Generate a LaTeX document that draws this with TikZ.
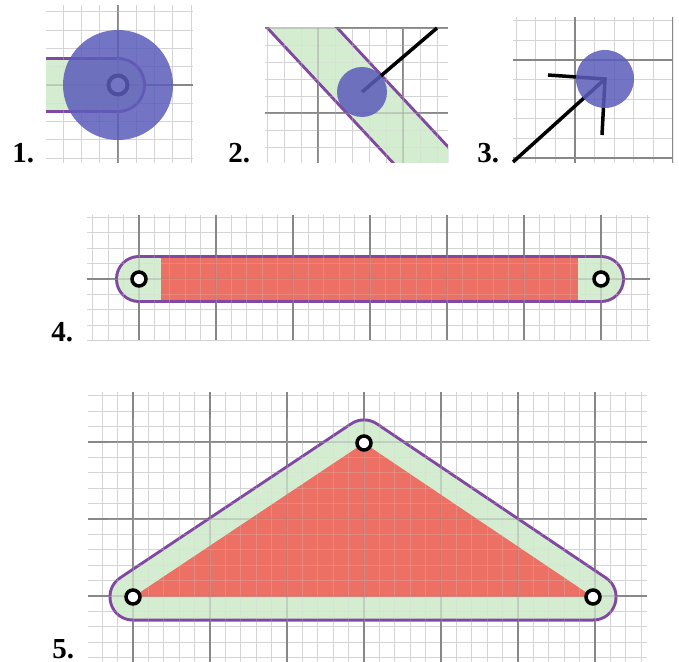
\documentclass[tikz,border=0pt]{standalone}
\usepackage{fontspec}
\setmainfont{Liberation Serif}
\definecolor{gminorc}{RGB}{212,212,212}
\definecolor{gmajorc}{RGB}{135,135,135}
\definecolor{zone}{RGB}{212,236,208}
\definecolor{trired}{RGB}{236,112,100}
\definecolor{edge}{RGB}{128,72,160}
\definecolor{disc}{RGB}{92,92,186}
\tikzset{
  gminor/.style={gminorc, line width=0.45pt},
  gmajor/.style={gmajorc, line width=0.65pt},
  lbl/.style={font=\fontsize{14.5}{16}\selectfont\bfseries, inner sep=0pt, anchor=base west},
  pt/.style={circle, draw=black, fill=white, line width=1.75pt, minimum size=7pt, inner sep=0pt},
  bigpt/.style={circle, draw=black, fill=white, line width=2pt, minimum size=9.5pt, inner sep=0pt},
  discfill/.style={fill=disc, fill opacity=0.85},
  blackline/.style={black, line width=1.75pt}
}
\newcommand\drawgrid[8]{%
\begin{scope}[opacity=#8]
\clip (#1,#2) rectangle (#3,#4);
\foreach \k in {-40,...,40}{
  \draw[gminor] ({#5+\k*#7},#2) -- ({#5+\k*#7},#4);
  \draw[gminor] (#1,{#6+\k*#7}) -- (#3,{#6+\k*#7});
}
\foreach \k in {-8,...,8}{
  \draw[gmajor] ({#5+5*\k*#7},#2) -- ({#5+5*\k*#7},#4);
  \draw[gmajor] (#1,{#6+5*\k*#7}) -- (#3,{#6+5*\k*#7});
}
\end{scope}}
\begin{document}
\begin{tikzpicture}[x=0.5pt,y=-0.5pt]
\useasboundingbox (0,0) rectangle (679,662);
% ---------- Panel 1 ----------
\drawgrid{46}{5}{193}{163}{118}{85}{18.3}{1}
\coordinate (p1) at (118,85);
\begin{scope}
\clip (46,5) rectangle (193,163);
\draw[edge, line width=28pt, line cap=round] (0,85) -- (p1);
\draw[zone, line width=25pt, line cap=round] (0,85) -- (p1);
\end{scope}
\begin{scope}
\clip (46,5) rectangle (140,163);
\drawgrid{46}{5}{193}{163}{118}{85}{18.3}{0.3}
\end{scope}
\node[bigpt] (q1) at (p1) {};
\fill[discfill] (p1) circle[radius=55];
\node[lbl] (l1) at (12,163) {1.};
% ---------- Panel 2 ----------
\drawgrid{265}{28}{448}{163}{318}{113}{17}{1}
\coordinate (c2) at (362,92);
\coordinate (b2a) at (226,-54);
\coordinate (b2b) at (498,238);
\begin{scope}
\clip (265,28) rectangle (448,163);
\draw[edge, line width=27pt] (b2a) -- (b2b);
\draw[zone, line width=24pt] (b2a) -- (b2b);
\drawgrid{265}{28}{448}{163}{318}{113}{17}{0.3}
\end{scope}
\coordinate (e2) at (437,28);
\draw[blackline] (c2) -- (e2);
\fill[discfill] (c2) circle[radius=25];
\node[lbl] (l2) at (228,163) {2.};
% ---------- Panel 3 ----------
\drawgrid{513}{17}{673}{163}{575}{60}{19.6}{1}
\coordinate (tip3) at (605,79);
\coordinate (tail3) at (513,162);
\coordinate (bl3) at (548,75);
\coordinate (br3) at (602,135);
\draw[blackline] (tail3) -- (tip3);
\draw[blackline, line join=miter] (bl3) -- (tip3) -- (br3);
\fill[discfill] (tip3) circle[radius=29];
\node[lbl] (l3) at (477,163) {3.};
% ---------- Panel 4 ----------
\drawgrid{87}{215}{650}{340}{139}{279}{15.4}{1}
\coordinate (a4) at (139,279);
\coordinate (b4) at (601,279);
\draw[edge, line width=24pt, line cap=round] (a4) -- (b4);
\draw[zone, line width=21pt, line cap=round] (a4) -- (b4);
\fill[trired] (161,258) rectangle (578,300);
\begin{scope}
\clip (110,255) rectangle (630,303);
\drawgrid{87}{215}{650}{340}{139}{279}{15.4}{0.25}
\end{scope}
\node[pt] (pa4) at (a4) {};
\node[pt] (pb4) at (b4) {};
\node[lbl] (l4) at (51,342) {4.};
% ---------- Panel 5 ----------
\drawgrid{88}{392}{647}{662}{133}{596}{15.4}{1}
\coordinate (a5) at (133,597);
\coordinate (b5) at (364,443);
\coordinate (c5) at (593,597);
\draw[edge, line width=24.5pt, line join=round] (a5) -- (b5) -- (c5) -- cycle;
\draw[zone, fill=zone, line width=21.5pt, line join=round] (a5) -- (b5) -- (c5) -- cycle;
\fill[trired] (a5) -- (b5) -- (c5) -- cycle;
\begin{scope}
\clip (108,418) rectangle (620,622);
\drawgrid{88}{392}{647}{662}{133}{596}{15.4}{0.25}
\end{scope}
\node[pt] (pa5) at (a5) {};
\node[pt] (pb5) at (b5) {};
\node[pt] (pc5) at (c5) {};
\node[lbl] (l5) at (52,658) {5.};
\end{tikzpicture}
\end{document}
